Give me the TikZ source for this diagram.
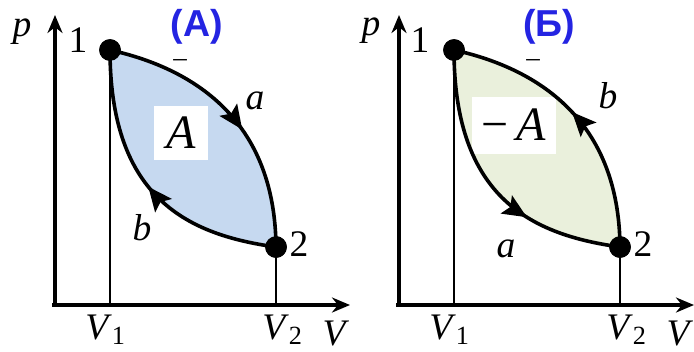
\documentclass[tikz,border=0pt]{standalone}
\usepackage{fontspec}
\newfontfamily\labelfont{Liberation Serif}
\newfontfamily\headfont{Liberation Sans}
\usepackage{xcolor}
\usetikzlibrary{arrows.meta, decorations.markings}

\definecolor{fillblue}{HTML}{C6D9F0}
\definecolor{fillgreen}{HTML}{EAF0DC}
\definecolor{headblue}{HTML}{2424E2}

\begin{document}
\begin{tikzpicture}[
    x=0.3333pt, y=-0.3333pt,
    axis/.style={-{Stealth[length=6pt, width=5pt]}, line width=1.6pt},
    curve/.style={line width=1.2pt},
    level/.style={line width=0.8pt},
    dot/.style={circle, fill=black, minimum size=7.2pt, inner sep=0pt},
    lab/.style={font=\fontsize{12.5}{14}\selectfont\labelfont},
    head/.style={inner sep=0pt, font=\fontsize{12.5}{14}\selectfont\headfont\bfseries, text=headblue},
    workbox/.style={fill=white, inner sep=0pt, font=\fontsize{16}{18}\selectfont\labelfont\itshape},
    tick/.style={inner sep=0pt, font=\fontsize{9}{9}\selectfont\labelfont},
    flow/.style={decoration={markings, mark=at position #1 with {\arrow{Stealth[length=8pt, width=7pt, inset=1.5pt]}}}, postaction=decorate},
    backflow/.style={decoration={markings, mark=at position #1 with {\arrowreversed{Stealth[length=8pt, width=7pt, inset=1.5pt]}}}, postaction=decorate}
]
\useasboundingbox (0,0) rectangle (694,351);

% Panel (A)
\coordinate (oA) at (55,305);
\coordinate (topA) at (55,15);
\coordinate (rightA) at (350,305);
\coordinate (footA1) at (110,305);
\coordinate (footA2) at (276,305);
\node (oneA) [dot] at (110,50) {};
\node (twoA) [dot] at (276,247) {};

\fill [fillblue] (oneA.center) .. controls (200,70) and (275,125) .. (twoA.center)
    .. controls (190,235) and (110,200) .. (oneA.center);
\node (workA) [workbox, minimum width=17.7pt, minimum height=17.7pt] at (181,133) {A};

\draw [axis] (oA) -- (topA);
\draw [axis] (52,305) -- (rightA);
\draw [level] (oneA.center) -- (footA1);
\draw [level] (twoA.center) -- (footA2);
\draw [curve, flow=0.56] (oneA.center) .. controls (200,70) and (275,125) .. (twoA.center);
\draw [curve, flow=0.5] (twoA.center) .. controls (190,235) and (110,200) .. (oneA.center);
\node (oneA) [dot] at (110,50) {};
\node (twoA) [dot] at (276,247) {};

\node (headA) [head] at (197,27) {(A)};
\node (pA) [lab] at (22,32) {\itshape p};
\node (numA1) [lab] at (78,40) {1};
\node (numA2) [lab] at (299,244) {2};
\node (tickA) [tick] at (180,63) {\textendash};
\node (labAa) [lab] at (255,101) {\itshape a};
\node (labAb) [lab] at (142,228) {\itshape b};
\node (vA1) [lab] at (106,330) {\textit{V}\textsubscript{1}};
\node (vA2) [lab] at (283,330) {\textit{V}\textsubscript{2}};
\node (vA) [lab] at (334,333) {\itshape V};

% Panel (B)
\coordinate (oB) at (399,305);
\coordinate (topB) at (399,15);
\coordinate (rightB) at (694,305);
\coordinate (footB1) at (454,305);
\coordinate (footB2) at (620,305);
\node (oneB) [dot] at (454,50) {};
\node (twoB) [dot] at (620,247) {};

\fill [fillgreen] (oneB.center) .. controls (544,70) and (619,125) .. (twoB.center)
    .. controls (534,235) and (454,200) .. (oneB.center);
\node (workB) [workbox, minimum width=28pt, minimum height=19pt] at (514,125) {\upshape−\,\itshape A};

\draw [axis] (oB) -- (topB);
\draw [axis] (396,305) -- (rightB);
\draw [level] (oneB.center) -- (footB1);
\draw [level] (twoB.center) -- (footB2);
\draw [curve, backflow=0.48] (oneB.center) .. controls (544,70) and (619,125) .. (twoB.center);
\draw [curve, backflow=0.34] (twoB.center) .. controls (534,235) and (454,200) .. (oneB.center);
\node (oneB) [dot] at (454,50) {};
\node (twoB) [dot] at (620,247) {};

\node (headB) [head] at (549,27) {(Б)};
\node (pB) [lab] at (371,31) {\itshape p};
\node (numB1) [lab] at (420,40) {1};
\node (numB2) [lab] at (643,244) {2};
\node (tickB) [tick] at (533,63) {\textendash};
\node (labBb) [lab] at (608,96) {\itshape b};
\node (labBa) [lab] at (506,249) {\itshape a};
\node (vB1) [lab] at (450,330) {\textit{V}\textsubscript{1}};
\node (vB2) [lab] at (627,330) {\textit{V}\textsubscript{2}};
\node (vB) [lab] at (678,333) {\itshape V};

\end{tikzpicture}
\end{document}
